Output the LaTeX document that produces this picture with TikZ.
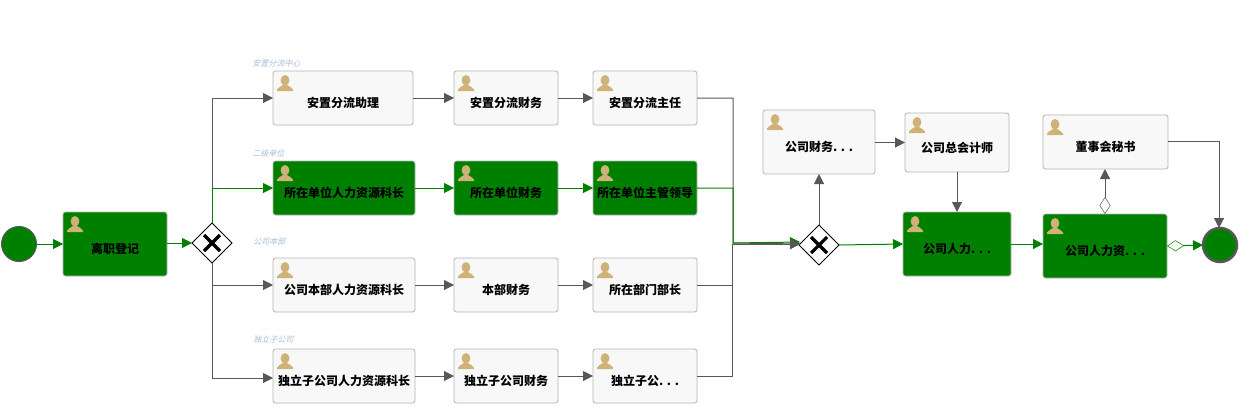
\documentclass[tikz,border=0pt]{standalone}
\usepackage{fontspec}
\setmainfont{Noto Sans CJK SC}
\usetikzlibrary{arrows.meta,shapes.geometric}
\definecolor{flowgreen}{HTML}{008000}
\definecolor{flowgray}{HTML}{585858}
\definecolor{boxgray}{HTML}{B4B4B4}
\definecolor{boxfill}{HTML}{F8F8F8}
\definecolor{iconcol}{HTML}{CEB278}
\definecolor{lanecol}{HTML}{A9BEDB}
\tikzset{
  x=1pt,y=-1pt,
  taskbox/.style={draw=boxgray,line width=.8pt,rounded corners=2.5pt,inner sep=0pt,outer sep=0pt,fill=boxfill,text=black,font=\fontsize{12}{12}\selectfont\bfseries},
  donebox/.style={taskbox,fill=flowgreen},
  gateway/.style={diamond,aspect=1,draw=black,fill=white,line width=.8pt,inner sep=0pt,outer sep=0pt,minimum width=40pt,minimum height=40pt,
    path picture={\draw[black,line width=3.2pt] (path picture bounding box.center)+(-8,-8) -- +(8,8);
                  \draw[black,line width=3.2pt] (path picture bounding box.center)+(-8,8) -- +(8,-8);}},
  startev/.style={circle,draw=flowgray,fill=flowgreen,line width=1pt,inner sep=0pt,outer sep=0pt,minimum size=35pt},
  endev/.style={circle,draw=flowgray,fill=flowgreen,line width=2.5pt,inner sep=0pt,outer sep=0pt,minimum size=34pt},
  lanetext/.style={text=lanecol,font=\fontsize{8}{9}\selectfont,inner sep=0pt,anchor=west,xslant=0.25},
  flow/.style={line width=1pt,-{Triangle[length=10pt,width=10pt]}},
  gflow/.style={flow,color=flowgray},
  sflow/.style={flow,color=flowgreen},
  gdiam/.style={line width=1pt,color=flowgray,{Diamond[open,length=17pt,width=11pt,fill=white,line width=.5pt]}-{Triangle[length=10pt,width=10pt]}},
  sdiam/.style={line width=1pt,color=flowgreen,{Diamond[open,length=17pt,width=11pt,fill=white,line width=.5pt]}-{Triangle[length=10pt,width=10pt]}},
}
\newcommand{\tasknode}[7][]{%
  \node[#2,minimum width={(#5-#3)*1pt},minimum height={(#6-#4)*1pt}] (#1) at ({(#3+#5)/2},{(#4+#6)/2}) {\raisebox{-9.5pt}[0pt][0pt]{#7}};
  \begin{scope}[shift={(#3,#4)}]
    \fill[iconcol] (12,9.3) ellipse [x radius=4.4,y radius=5.3];
    \fill[iconcol] (4,20) -- (4,18.5) .. controls (5,16.2) and (8,15.8) .. (10,14) -- (14,14) .. controls (16,15.8) and (19,16.2) .. (20,18.5) -- (20,20) -- cycle;
  \end{scope}}
\begin{document}
\begin{tikzpicture}
\useasboundingbox (0,0) rectangle (1247,413);
\fill[white] (0,0) rectangle (1247,413);

\node[lanetext] (l1) at (253,63) {安置分流中心};
\node[lanetext] (l2) at (253,153) {二级单位};
\node[lanetext] (l3) at (254,241) {公司本部};
\node[lanetext] (l4) at (254,339) {独立子公司};

\node[startev] (start) at (19,244) {};
\node[endev] (end) at (1220,245) {};
\node[gateway] (gw1) at (212,243) {};
\node[gateway] (gw2) at (819,245) {};

\tasknode[t0]{donebox}{63}{212}{167}{276}{离职登记}
\tasknode[a1]{taskbox}{273}{71}{413}{125}{安置分流助理}
\tasknode[a2]{taskbox}{454}{71}{558}{125}{安置分流财务}
\tasknode[a3]{taskbox}{593}{71}{697}{125}{安置分流主任}
\tasknode[b1]{donebox}{273}{161}{415}{215}{所在单位人力资源科长}
\tasknode[b2]{donebox}{454}{161}{558}{215}{所在单位财务}
\tasknode[b3]{donebox}{593}{161}{697}{215}{所在单位主管领导}
\tasknode[c1]{taskbox}{273}{258}{415}{312}{公司本部人力资源科长}
\tasknode[c2]{taskbox}{454}{258}{558}{312}{本部财务}
\tasknode[c3]{taskbox}{593}{258}{697}{312}{所在部门部长}
\tasknode[d1]{taskbox}{273}{349}{415}{403}{独立子公司人力资源科长}
\tasknode[d2]{taskbox}{454}{349}{558}{403}{独立子公司财务}
\tasknode[d3]{taskbox}{593}{349}{697}{403}{独立子公. . .}
\tasknode[e1]{taskbox}{763}{110}{875}{174}{公司财务. . .}
\tasknode[e2]{taskbox}{905}{113}{1009}{172}{公司总会计师}
\tasknode[e3]{donebox}{903}{212}{1011}{276}{公司人力. . .}
\tasknode[f1]{taskbox}{1043}{115}{1168}{169}{董事会秘书}
\tasknode[f2]{donebox}{1043}{214}{1167}{278}{公司人力资. . .}

\coordinate (j1) at (733,98);
\coordinate (j2) at (733,188);
\coordinate (j3) at (732,285);
\coordinate (j4) at (732,376);
\coordinate (jg) at (733,243);
\coordinate (jh) at (732,244);
\coordinate (jin) at (800,242);
\coordinate (jin2) at (800,244);
\coordinate (fc) at (1219,141);
\coordinate (dj) at (212,378);

\draw[sflow] (start.east) -- (t0.west);
\draw[sflow] (t0.east |- gw1.west) -- (gw1.west);
\draw[gflow] (gw1.north) |- (a1.west);
\draw[gflow] (gw1.south) |- (c1.west);
\draw[gflow] (gw1.south) -- (dj) -- (d1.west |- dj);
\draw[sflow] (gw1.north) |- (b1.west);
\draw[gflow] (a1.east) -- (a2.west);
\draw[gflow] (a2.east) -- (a3.west);
\draw[sflow] (b1.east) -- (b2.west);
\draw[sflow] (b2.east) -- (b3.west);
\draw[gflow] (c1.east) -- (c2.west);
\draw[gflow] (c2.east) -- (c3.west);
\draw[gflow] (d1.east) -- (d2.west);
\draw[gflow] (d2.east) -- (d3.west);
\draw[gflow] (a3.east) -- (j1) -- (jg) -- (jin2);
\draw[sflow] (b3.east) -- (j2) -- (jg) -- (jin);
\draw[gflow] (c3.east) -- (j3) -- (jh) -- (jin2);
\draw[gflow] (d3.east) -- (j4) -- (jh) -- (jin2);
\draw[gflow] (gw2.north) -- (gw2.north |- e1.south);
\draw[sflow] (gw2.east) -- (e3.west);
\draw[gflow] (e1.east |- e2.west) -- (e2.west);
\draw[gflow] (e2.south) -- (e2.south |- e3.north);
\draw[sflow] (e3.east) -- (f2.west |- e3.east);
\draw[gdiam] (f2.north) -- (f2.north |- f1.south);
\draw[sdiam] (f2.east) -- (end.west);
\draw[gflow] (f1.east |- fc) -- (fc) -- (fc |- end.north);
\end{tikzpicture}
\end{document}
